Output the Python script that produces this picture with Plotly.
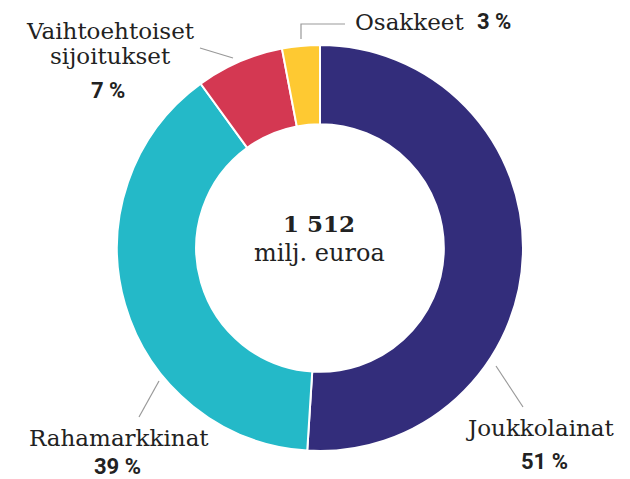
import plotly.graph_objects as go

W, H = 630, 479

# data
labels = ["Joukkolainat", "Rahamarkkinat", "Vaihtoehtoiset<br>sijoitukset", "Osakkeet"]
shares = [51, 39, 7, 3]
colors = ["#332d7b", "#24b9c8", "#d43852", "#fec932"]
total_text = "1 512"
unit_text = "milj. euroa"

SERIF = "DejaVu Serif"
SANS = "Roboto"
INK = "#222222"


def px(x, y):
    """pixel (from top-left) -> paper coords"""
    return x / W, 1 - y / H


cx, cy, r = 320, 248, 203
x0, y0 = px(cx - r, cy + r)
x1, y1 = px(cx + r, cy - r)

fig = go.Figure(go.Pie(
    labels=labels,
    values=shares,
    hole=0.61,
    sort=False,
    direction="clockwise",
    rotation=0,
    marker=dict(colors=colors, line=dict(color="white", width=2)),
    textinfo="none",
    hoverinfo="label+percent",
    domain=dict(x=[x0, x1], y=[y0, y1]),
))

annotations = []


def text(x, y, s, family=SERIF, size=23, bold=False, xanchor="center"):
    ax, ay = px(x, y)
    annotations.append(dict(
        x=ax, y=ay, xref="paper", yref="paper", text=f"<b>{s}</b>" if bold else s,
        showarrow=False, xanchor=xanchor, yanchor="middle",
        font=dict(family=family, size=size, color=INK),
    ))


# center
text(319, 223, total_text, size=23, bold=True)
text(319, 253, unit_text, size=24)

# slice labels
text(110, 31, "Vaihtoehtoiset")
text(110, 56, "sijoitukset")
text(108, 90, f"{shares[2]} %", family=SANS, size=22, bold=True)

text(353, 22, "Osakkeet", xanchor="left")
text(475, 22, f"{shares[3]} %", family=SANS, size=22, bold=True, xanchor="left")

text(119, 438, "Rahamarkkinat")
text(117, 466, f"{shares[1]} %", family=SANS, size=22, bold=True)

text(540, 428, "Joukkolainat")
text(544, 461, f"{shares[0]} %", family=SANS, size=22, bold=True)

# leader lines
leaders = [
    [(200, 48), (233, 58)],
    [(301, 39), (301, 24), (345, 24)],
    [(159, 381), (139, 417)],
    [(496, 366), (523, 407)],
]
shapes = []
for pts in leaders:
    path = "M " + " L ".join(f"{px(x, y)[0]},{px(x, y)[1]}" for x, y in pts)
    shapes.append(dict(type="path", xref="paper", yref="paper", path=path,
                       line=dict(color="#999999", width=1.2)))

fig.update_layout(
    width=W, height=H,
    margin=dict(l=0, r=0, t=0, b=0),
    paper_bgcolor="white",
    plot_bgcolor="white",
    showlegend=False,
    annotations=annotations,
    shapes=shapes,
)

fig.write_html("out.html", config={"displayModeBar": False},
               post_script="document.body.style.margin='0';")
